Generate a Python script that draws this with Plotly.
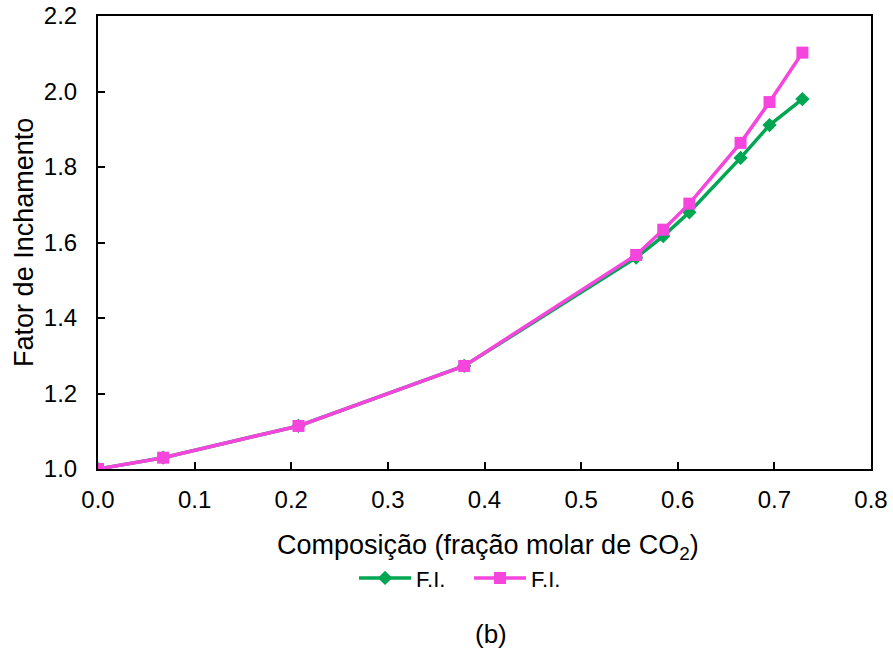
import plotly.graph_objects as go

x_green = [0.0, 0.0674, 0.2075, 0.379, 0.557, 0.585, 0.612, 0.665, 0.695, 0.729]
y_green = [1.0, 1.030, 1.114, 1.273, 1.560, 1.617, 1.680, 1.824, 1.911, 1.980]
x_pink = [0.0, 0.0674, 0.2075, 0.379, 0.557, 0.585, 0.612, 0.665, 0.695, 0.729]
y_pink = [1.0, 1.030, 1.114, 1.273, 1.567, 1.634, 1.703, 1.864, 1.972, 2.103]
names = ["F.I.", "F.I."]

GREEN = "#00A651"
PINK = "#F545DC"
FONT = "Liberation Sans, Arial, sans-serif"

fig = go.Figure()
fig.add_trace(go.Scatter(x=x_green, y=y_green, name=names[0], mode="lines+markers",
                         line=dict(color=GREEN, width=3.5),
                         marker=dict(symbol="diamond", size=11, color=GREEN)))
fig.add_trace(go.Scatter(x=x_pink, y=y_pink, name=names[1], mode="lines+markers",
                         line=dict(color=PINK, width=3.5),
                         marker=dict(symbol="square", size=12, color=PINK)))

axis_common = dict(showgrid=False, zeroline=False, showline=True, linecolor="black", linewidth=2,
                   mirror=True, ticks="inside", ticklen=7, tickwidth=1.5, tickcolor="black",
                   automargin=False,
                   tickfont=dict(family=FONT, size=24, color="black"))
fig.update_xaxes(range=[0, 0.8], dtick=0.1, tickformat=".1f", ticklabelstandoff=8, **axis_common)
fig.update_yaxes(range=[1.0, 2.2], dtick=0.2, tickformat=".1f", ticklabelstandoff=14, **axis_common)

fig.update_layout(
    width=893, height=654,
    margin=dict(l=98, r=22, t=16, b=185, autoexpand=False),
    plot_bgcolor="white", paper_bgcolor="white",
    font=dict(family=FONT, color="black"),
    showlegend=True,
    legend=dict(orientation="h", x=0.48, xanchor="center", y=-0.241, yanchor="middle",
                font=dict(family=FONT, size=22), itemwidth=52, entrywidth=48,
                entrywidthmode="pixels", bgcolor="rgba(0,0,0,0)"),
    annotations=[
        dict(text="Composição (fração molar de CO<sub>2</sub>)", xref="paper", yref="paper",
             x=0.504, y=-0.172, xanchor="center", yanchor="middle", showarrow=False,
             font=dict(family=FONT, size=27)),
        dict(text="Fator de Inchamento", xref="paper", yref="paper", x=-0.0965, y=0.5,
             textangle=-90, xanchor="center", yanchor="middle", showarrow=False,
             font=dict(family=FONT, size=27)),
        dict(text="(b)", xref="paper", yref="paper", x=0.509, y=-0.364,
             xanchor="center", yanchor="middle", showarrow=False,
             font=dict(family=FONT, size=26)),
    ],
)

fig.write_html("out.html")
